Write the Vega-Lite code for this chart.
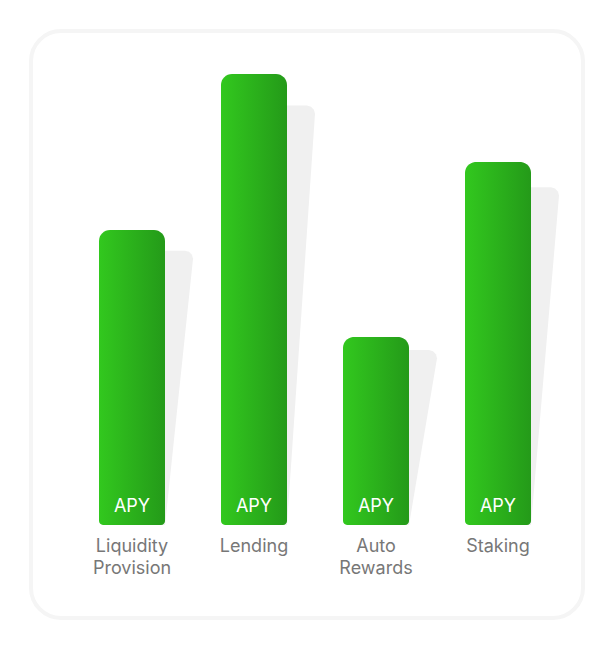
{
  "$schema": "https://vega.github.io/schema/vega-lite/v6.json",
  "width": 552,
  "height": 587,
  "autosize": "none",
  "padding": {"left": 31, "top": 31, "right": 31, "bottom": 32},
  "background": "#ffffff",
  "config": {
    "view": {"fill": "#ffffff", "cornerRadius": 30, "stroke": "#f5f5f5", "strokeWidth": 4},
    "font": "Inter"
  },
  "data": {
    "values": [
      {"category": "Liquidity Provision", "label": "Liquidity\nProvision", "value": 65.4},
      {"category": "Lending", "label": "Lending", "value": 100},
      {"category": "Auto Rewards", "label": "Auto\nRewards", "value": 41.7},
      {"category": "Staking", "label": "Staking", "value": 80.5}
    ]
  },
  "encoding": {
    "x": {
      "field": "category",
      "type": "nominal",
      "sort": null,
      "scale": {"range": [40, 528], "paddingInner": 0.459, "paddingOuter": 0.2295},
      "axis": null
    }
  },
  "resolve": {"scale": {"xOffset": "independent"}},
  "layer": [
    {
      "transform": [
        {"calculate": "[0,1,2,3,4,5,6,7]", "as": "vid"},
        {"flatten": ["vid"]},
        {"calculate": "datum.value * 0.93 - [datum.value * 0.93, datum.value * 0.93, 1.8, 0.9, 0.24, 0, 0, datum.value * 0.93][datum.vid]", "as": "sy"},
        {"calculate": "[20,66,94,92.9,90,86,20,20][datum.vid]", "as": "sx"}
      ],
      "mark": {"type": "line", "fill": "#f0f0f0", "stroke": "#f0f0f0", "strokeWidth": 0, "interpolate": "linear-closed"},
      "encoding": {
        "y": {"field": "sy", "type": "quantitative", "scale": {"domain": [0, 100], "range": [494, 43], "nice": false}, "axis": null},
        "xOffset": {"field": "sx", "type": "quantitative", "scale": {"domain": [0, 100], "range": [0, 100]}},
        "order": {"field": "vid"},
        "detail": {"field": "category"}
      }
    },
    {
      "mark": {
        "type": "bar",
        "width": {"band": 1},
        "cornerRadiusTopLeft": 11,
        "cornerRadiusTopRight": 11,
        "cornerRadiusBottomLeft": 4,
        "cornerRadiusBottomRight": 4,
        "color": {
          "gradient": "linear",
          "x1": 0, "y1": 0, "x2": 1, "y2": 0,
          "stops": [{"offset": 0, "color": "#32C81E"}, {"offset": 1, "color": "#249A19"}]
        }
      },
      "encoding": {
        "y": {"field": "value", "type": "quantitative", "axis": null}
      }
    },
    {
      "mark": {"type": "text", "text": "APY", "color": "#ffffff", "fontSize": 18, "dy": -18, "baseline": "middle"},
      "encoding": {"y": {"datum": 0, "type": "quantitative"}}
    },
    {
      "mark": {"type": "text", "fontSize": 18, "color": "#777777", "baseline": "top", "dy": 13, "lineBreak": "\n", "lineHeight": 22},
      "encoding": {
        "y": {"datum": 0, "type": "quantitative"},
        "text": {"field": "label"}
      }
    }
  ]
}
